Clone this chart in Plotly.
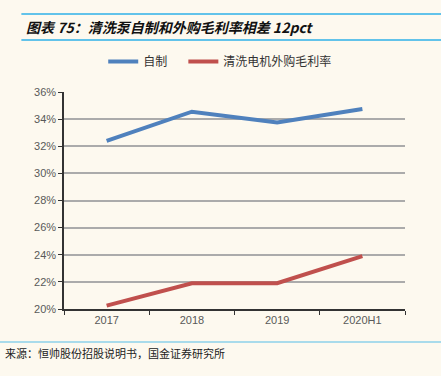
import plotly.graph_objects as go

categories = ["2017", "2018", "2019", "2020H1"]
self_made = [32.4, 34.55, 33.75, 34.75]
purchased = [20.25, 21.9, 21.9, 23.9]
series_names = ["自制", "清洗电机外购毛利率"]
y_ticks = [20, 22, 24, 26, 28, 30, 32, 34, 36]

bg = "#FDF9EF"
font_cjk = "Noto Sans CJK SC"

fig = go.Figure()
fig.add_trace(go.Scatter(x=categories, y=self_made, mode="lines", name=series_names[0],
                         line=dict(color="#4F81BD", width=4), legend="legend"))
fig.add_trace(go.Scatter(x=categories, y=purchased, mode="lines", name=series_names[1],
                         line=dict(color="#C0504D", width=4), legend="legend2"))

leg_common = dict(orientation="h", y=1.14, xanchor="left", yanchor="middle",
                  font=dict(family=font_cjk, size=12, color="#333333"),
                  bgcolor="rgba(0,0,0,0)")

fig.update_layout(
    width=441, height=376,
    margin=dict(l=64, r=36, t=92, b=67, autoexpand=False),
    paper_bgcolor=bg, plot_bgcolor=bg,
    showlegend=True,
    legend=dict(x=0.115, **leg_common),
    legend2=dict(x=0.35, **leg_common),
    xaxis=dict(type="category", showgrid=False, showline=True, linecolor="#333333",
               linewidth=1.5, ticks="outside", ticklen=4, tickcolor="#333333",
               tickson="boundaries", range=[-0.5, 3.5],
               tickfont=dict(family="Arial", size=11, color="#595959")),
    yaxis=dict(range=[20, 36], tickvals=y_ticks, ticktext=[f"{v}%" for v in y_ticks],
               showgrid=True, gridcolor="#ABABAB", gridwidth=1.5,
               showline=True, linecolor="#333333", linewidth=1.5,
               ticks="outside", ticklen=4, tickcolor="#333333", zeroline=False,
               tickfont=dict(family="Arial", size=11, color="#595959")),
    font=dict(family=font_cjk),
)

# title bars (paper units: plot top at 92px, height 217px)
fig.add_shape(type="line", xref="paper", yref="paper", x0=-0.125, x1=1.106, y0=1.359, y1=1.359,
              line=dict(color="#2EB0E8", width=1.5))
fig.add_shape(type="line", xref="paper", yref="paper", x0=-0.125, x1=1.106, y0=1.240, y1=1.240,
              line=dict(color="#2EB0E8", width=1.5))
fig.add_annotation(xref="paper", yref="paper", x=-0.118, y=1.30, xanchor="left", yanchor="middle",
                   text="<b><i>图表 75：清洗泵自制和外购毛利率相差 12pct</i></b>", showarrow=False,
                   font=dict(family=font_cjk, size=14, color="#111111"))
# footer
fig.add_shape(type="line", xref="paper", yref="paper", x0=-0.19, x1=1.106, y0=-0.152, y1=-0.152,
              line=dict(color="#8DD0EA", width=1.5))
fig.add_annotation(xref="paper", yref="paper", x=-0.18, y=-0.205, xanchor="left", yanchor="middle",
                   text="来源：恒帅股份招股说明书，国金证券研究所", showarrow=False,
                   font=dict(family=font_cjk, size=11, color="#222222"))

fig.write_html("out.html", config={"displayModeBar": False},
               post_script="document.body.style.margin='0';document.body.style.background='#FDF9EF';")
